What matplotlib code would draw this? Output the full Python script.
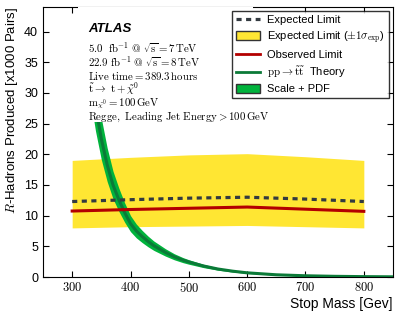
import numpy as np
import matplotlib
matplotlib.use('Agg')
import matplotlib.pyplot as plt

plt.rcParams['mathtext.fontset'] = 'cm'
plt.rcParams['font.family'] = ['Liberation Sans', 'DejaVu Sans']

# Limits
mass = [300, 400, 500, 600, 700, 800]
expected = [12.3, 12.6, 12.85, 13.0, 12.7, 12.3]
observed = [10.75, 11.0, 11.2, 11.4, 11.05, 10.7]
band_hi = [19.0, 19.5, 19.9, 20.1, 19.6, 19.0]
band_lo = [8.0, 8.2, 8.3, 8.4, 8.2, 8.0]

# Theory curve
th_mass = [330, 340, 350, 360, 370, 380, 390, 400, 410, 420, 430, 440, 450,
           460, 475, 490, 500, 525, 550, 575, 600, 650, 700, 750, 800, 850]
th_val = [35.0, 28.0, 22.5, 18.3, 15.0, 12.6, 10.5, 8.7, 7.5, 6.6, 5.8, 5.1,
          4.55, 4.0, 3.3, 2.75, 2.45, 1.8, 1.3, 0.95, 0.68, 0.36, 0.2, 0.11,
          0.06, 0.03]
th_err = 0.15  # relative scale + PDF

xticks = [300, 400, 500, 600, 700, 800]
yticks = [0, 5, 10, 15, 20, 25, 30, 35, 40]

fig = plt.figure(figsize=(3.99, 3.15), dpi=100)
ax = fig.add_axes([43/399, 1 - 277/315, 350/399, 270/315])

th_val = np.array(th_val)
ax.fill_between(th_mass, th_val*(1 - th_err), th_val*(1 + th_err),
                color='#00b33c', lw=0, zorder=2)
ax.plot(th_mass, th_val, color='#0b7a38', lw=2.2, zorder=3)

ax.fill_between(mass, band_lo, band_hi, color='#ffe633', lw=0, zorder=1)
ax.plot(mass, observed, color='#b30000', lw=2.2, zorder=4)
ax.plot(mass, expected, color='#333a40', lw=2.3, ls=(0, (1.6, 1.4)), zorder=4)

ax.set_xlim(250, 850)
ax.set_ylim(0, 44)
ax.set_xticks(xticks)
ax.set_yticks(yticks)
ax.set_xticklabels(['$%d$' % v for v in xticks], fontsize=9.5)
ax.tick_params(direction='in', top=True, right=True, length=4, width=0.8,
               labelsize=9)
ax.tick_params(axis='x', pad=3)

ax.set_xlabel('Stop Mass [Gev]', fontsize=10, loc='right', labelpad=1)
ax.set_ylabel('$R$-Hadrons Produced [x1000 Pairs]', fontsize=9.5, loc='top',
              labelpad=3)

# white box hides the top of the theory curve behind the text block
ax.add_patch(plt.Rectangle((0.1, 0.575), 0.5, 0.425, transform=ax.transAxes,
                           facecolor='white', edgecolor='none', zorder=4.5))

ax.text(0.129, (277 - 29) / 270, 'ATLAS', transform=ax.transAxes,
        fontsize=9.5, style='italic', weight='bold', va='center', zorder=6)
lines = [r'$\mathrm{5.0\ \ fb^{-1}\ @\ \sqrt{s} = 7\,TeV}$',
         r'$\mathrm{22.9\ fb^{-1}\ @\ \sqrt{s} = 8\,TeV}$',
         r'$\mathrm{Live\ time = 389.3\,hours}$',
         r'$\mathrm{\tilde{t} \rightarrow\ t + \tilde{\chi}^0}$',
         r'$\mathrm{m_{\tilde{\chi}^0} = 100\,GeV}$',
         r'$\mathrm{Regge,\ Leading\ Jet\ Energy > 100\,GeV}$']
line_y = [48, 62, 76, 89, 104, 117]
for txt, yp in zip(lines, line_y):
    ax.text(0.129, (277 - yp) / 270, txt, transform=ax.transAxes, fontsize=7.8,
            va='center', ha='left', zorder=6)

h1, = ax.plot([], [], color='#333a40', lw=2.3, ls=(0, (1.6, 1.4)))
h2 = plt.Rectangle((0, 0), 1, 1, facecolor='#ffe633', edgecolor='#333333', lw=1)
h3, = ax.plot([], [], color='#b30000', lw=2)
h4, = ax.plot([], [], color='#0b7a38', lw=2)
h5 = plt.Rectangle((0, 0), 1, 1, facecolor='#00b33c', edgecolor='#333333', lw=1)
leg = ax.legend([h1, h2, h3, h4, h5],
                ['Expected Limit', r'Expected Limit ($\pm1\sigma_{\mathrm{exp}}$)',
                 'Observed Limit', r'$\mathrm{pp \rightarrow \tilde{t}\tilde{t}}$  Theory',
                 'Scale + PDF'],
                loc='upper right', fontsize=8, frameon=True, fancybox=False,
                handlelength=2.1, handleheight=0.9, labelspacing=0.35,
                borderpad=0.35, handletextpad=0.7, borderaxespad=0.35)
leg.get_frame().set_edgecolor('black')
leg.get_frame().set_linewidth(1)
leg.set_zorder(10)

fig.savefig('out.png', dpi=100)
